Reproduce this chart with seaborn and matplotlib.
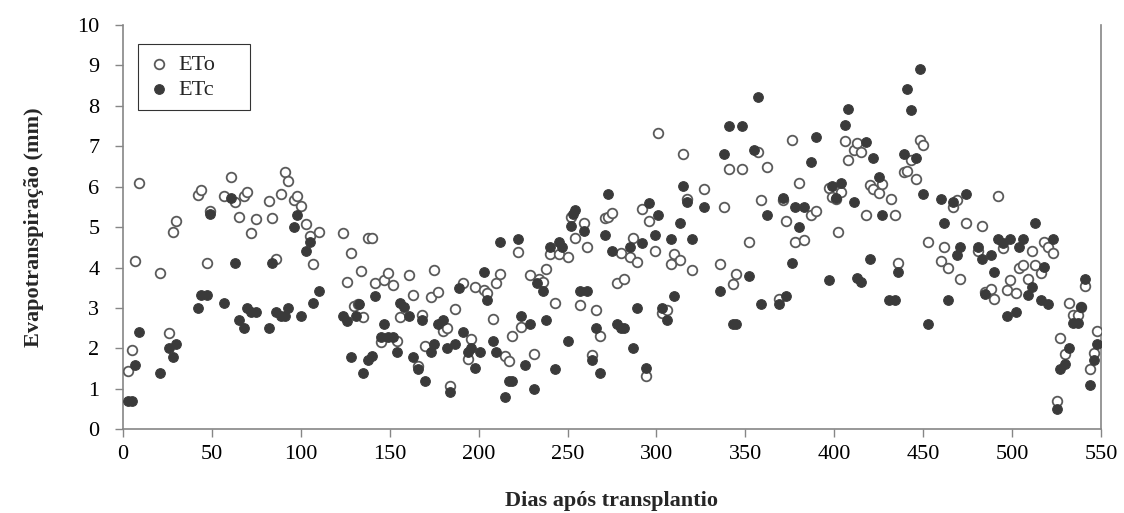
import matplotlib
matplotlib.use("Agg")
import matplotlib.pyplot as plt
import seaborn as sns
import pandas as pd

eto_days = [3, 5, 7, 9, 21, 26, 28, 30, 42, 44, 47, 49, 57, 61, 63, 65, 68, 70, 72, 75,
            82, 84, 86, 89, 91, 93, 96, 98, 100, 103, 105, 107, 110, 124, 126, 128, 130, 132, 134, 135,
            138, 140, 142, 145, 147, 149, 152, 154, 156, 161, 163, 166, 168, 170, 173, 175, 177, 180, 182, 184,
            187, 191, 194, 196, 198, 203, 205, 208, 210, 212, 215, 217, 219, 222, 224, 229, 231, 234, 236, 238,
            240, 243, 245, 250, 252, 254, 257, 259, 261, 264, 266, 268, 271, 273, 275, 278, 280, 282, 285, 287,
            289, 292, 294, 296, 299, 301, 303, 306, 308, 310, 313, 315, 317, 320, 327, 336, 338, 341, 343, 345,
            348, 352, 357, 359, 362, 369, 371, 373, 376, 378, 380, 383, 387, 390, 397, 399, 401, 402, 404, 406,
            408, 411, 413, 415, 418, 420, 422, 425, 427, 432, 434, 436, 439, 441, 443, 446, 448, 450, 453, 460,
            462, 464, 467, 469, 471, 474, 481, 483, 485, 488, 490, 492, 495, 497, 499, 502, 504, 506, 509, 511,
            513, 516, 518, 520, 523, 525, 527, 530, 532, 534, 537, 539, 541, 544, 546, 548]
eto_vals = [1.45, 1.96, 4.15, 6.10, 3.86, 2.38, 4.89, 5.16, 5.80, 5.92, 4.11, 5.41, 5.77, 6.24, 5.61, 5.25, 5.77, 5.86, 4.85, 5.20,
            5.64, 5.23, 4.20, 5.82, 6.36, 6.15, 5.67, 5.77, 5.53, 5.07, 4.79, 4.08, 4.87, 4.85, 3.64, 4.37, 3.05, 3.10, 3.92, 2.77,
            4.73, 4.73, 3.62, 2.17, 3.69, 3.86, 3.56, 2.19, 2.77, 3.81, 3.32, 1.57, 2.83, 2.06, 3.27, 3.95, 3.39, 2.42, 2.51, 1.07,
            2.97, 3.61, 1.75, 2.23, 3.51, 3.45, 3.37, 2.73, 3.63, 3.84, 1.82, 1.70, 2.31, 4.38, 2.52, 3.81, 1.86, 3.72, 3.64, 3.97,
            4.34, 3.13, 4.34, 4.26, 5.26, 4.73, 3.08, 5.11, 4.52, 1.84, 2.94, 2.31, 5.22, 5.26, 5.35, 3.61, 4.36, 3.72, 4.26, 4.73,
            4.13, 5.46, 1.31, 5.16, 4.42, 7.33, 2.87, 2.95, 4.09, 4.33, 4.19, 6.80, 5.69, 3.94, 5.94, 4.08, 5.49, 6.44, 3.59, 3.84,
            6.44, 4.63, 6.86, 5.68, 6.49, 3.22, 5.67, 5.15, 7.15, 4.64, 6.10, 4.69, 5.29, 5.41, 5.98, 5.74, 5.70, 4.87, 5.88, 7.14,
            6.67, 6.91, 7.08, 6.87, 5.29, 6.03, 5.95, 5.84, 6.06, 5.69, 5.31, 4.12, 6.36, 6.39, 6.67, 6.19, 7.16, 7.03, 4.62, 4.17,
            4.52, 3.98, 5.51, 5.68, 3.71, 5.10, 4.41, 5.04, 3.40, 3.46, 3.22, 5.78, 4.48, 3.45, 3.70, 3.37, 3.98, 4.07, 3.71, 4.40,
            4.07, 3.86, 4.62, 4.52, 4.37, 0.70, 2.25, 1.86, 3.13, 2.83, 2.83, 3.02, 3.55, 1.49, 1.88, 2.42]

etc_days = [3, 5, 7, 9, 21, 26, 28, 30, 42, 44, 47, 49, 57, 61, 63, 65, 68, 70, 72, 75,
            82, 84, 86, 89, 91, 93, 96, 98, 100, 103, 105, 107, 110, 124, 126, 128, 131, 133, 135, 138,
            140, 142, 145, 147, 149, 152, 154, 156, 158, 161, 163, 166, 168, 170, 173, 175, 177, 180, 182, 184,
            187, 189, 191, 194, 196, 198, 201, 203, 205, 208, 210, 212, 215, 217, 219, 222, 224, 226, 229, 231,
            233, 236, 238, 240, 243, 245, 247, 250, 252, 253, 254, 257, 259, 261, 264, 266, 268, 271, 273, 275,
            278, 280, 282, 285, 287, 289, 292, 294, 296, 299, 301, 303, 306, 308, 310, 313, 315, 317, 320, 327,
            336, 338, 341, 343, 345, 348, 352, 355, 357, 359, 362, 369, 371, 373, 376, 378, 380, 383, 387, 390,
            397, 399, 401, 404, 406, 408, 411, 413, 415, 418, 420, 422, 425, 427, 431, 434, 436, 439, 441, 443,
            446, 448, 450, 453, 460, 462, 464, 467, 469, 471, 474, 481, 483, 485, 488, 490, 492, 495, 497, 499,
            502, 504, 506, 509, 511, 513, 516, 518, 520, 523, 525, 527, 530, 532, 534, 537, 539, 541, 544, 546,
            548]
etc_vals = [0.70, 0.70, 1.59, 2.41, 1.40, 2.00, 1.80, 2.11, 3.00, 3.31, 3.31, 5.33, 3.12, 5.71, 4.11, 2.71, 2.50, 3.00, 2.91, 2.91,
            2.50, 4.11, 2.91, 2.80, 2.80, 3.01, 5.01, 5.31, 2.80, 4.40, 4.62, 3.12, 3.41, 2.80, 2.68, 1.80, 2.80, 3.10, 1.40, 1.72,
            1.81, 3.30, 2.29, 2.61, 2.29, 2.29, 1.92, 3.12, 3.02, 2.80, 1.80, 1.49, 2.71, 1.20, 1.91, 2.11, 2.61, 2.71, 2.00, 0.91,
            2.11, 3.50, 2.41, 1.91, 2.00, 1.51, 1.91, 3.90, 3.20, 2.19, 1.91, 4.62, 0.80, 1.20, 1.20, 4.71, 2.80, 1.59, 2.61, 1.00,
            3.61, 3.41, 2.71, 4.52, 1.50, 4.62, 4.52, 2.19, 5.02, 5.33, 5.43, 3.41, 4.91, 3.41, 1.72, 2.50, 1.40, 4.81, 5.81, 4.40,
            2.61, 2.50, 2.50, 4.51, 2.00, 3.00, 4.60, 1.51, 5.59, 4.81, 5.30, 3.01, 2.71, 4.70, 3.30, 5.10, 6.01, 5.61, 4.70, 5.51,
            3.42, 6.80, 7.51, 2.61, 2.61, 7.51, 3.80, 6.91, 8.22, 3.10, 5.31, 3.10, 5.71, 3.30, 4.11, 5.51, 5.01, 5.51, 6.60, 7.22,
            3.70, 6.02, 5.72, 6.10, 7.52, 7.92, 5.61, 3.75, 3.65, 7.10, 4.21, 6.72, 6.23, 5.31, 3.20, 3.20, 3.90, 6.81, 8.42, 7.90,
            6.72, 8.91, 5.82, 2.61, 5.70, 5.10, 3.20, 5.61, 4.31, 4.50, 5.82, 4.50, 4.21, 3.35, 4.31, 3.90, 4.70, 4.60, 2.81, 4.70,
            2.91, 4.50, 4.70, 3.32, 3.51, 5.10, 3.20, 4.01, 3.10, 4.70, 0.50, 1.49, 1.61, 2.00, 2.62, 2.62, 3.02, 3.71, 1.10, 1.72,
            2.11]

x_ticks = list(range(0, 551, 50))
y_ticks = list(range(0, 11))
series_names = ["ETo", "ETc"]
x_label = "Dias após transplantio"
y_label = "Evapotranspiração (mm)"

sns.set_style("white")
plt.rcParams["font.family"] = ["Liberation Serif", "DejaVu Serif"]

df_eto = pd.DataFrame({"dia": eto_days, "valor": eto_vals})
df_etc = pd.DataFrame({"dia": etc_days, "valor": etc_vals})

fig = plt.figure(figsize=(11.24, 5.13), dpi=100)
ax = fig.add_axes([0.1094, 0.1632, 0.8701, 0.7881])

sns.scatterplot(data=df_eto, x="dia", y="valor", ax=ax, marker="o", s=48,
                color="white", edgecolor="#5a5a5a", linewidth=1.3, label=series_names[0], zorder=3)
sns.scatterplot(data=df_etc, x="dia", y="valor", ax=ax, marker="o", s=48,
                color="#3a3a3a", edgecolor="#3a3a3a", linewidth=0.8, label=series_names[1], zorder=4)

ax.set_xlim(0, 550)
ax.set_ylim(0, 10)
ax.set_xticks(x_ticks)
ax.set_yticks(y_ticks)
ax.tick_params(axis="both", direction="out", length=6, width=1, color="#868686",
               labelsize=16, labelcolor="black", bottom=True, left=True)
ax.tick_params(axis="x", pad=5)
ax.tick_params(axis="y", pad=11)

for side in ["left", "bottom", "right"]:
    ax.spines[side].set_visible(True)
    ax.spines[side].set_color("#868686")
    ax.spines[side].set_linewidth(1.2)
ax.spines["top"].set_visible(False)

ax.set_xlabel(x_label, fontsize=16, fontweight="bold", labelpad=20)
ax.set_ylabel(y_label, fontsize=16, fontweight="bold", labelpad=24)

leg = ax.legend(loc="upper left", bbox_to_anchor=(0.015, 0.952, 0.115, 0.0), mode="expand",
                borderaxespad=0.0, fontsize=16, frameon=True, fancybox=False, edgecolor="black",
                handletextpad=0.4, borderpad=0.45, labelspacing=0.2, handlelength=1.0,
                markerscale=1.0)
leg.get_frame().set_linewidth(0.8)

fig.savefig("out.png", dpi=100)
